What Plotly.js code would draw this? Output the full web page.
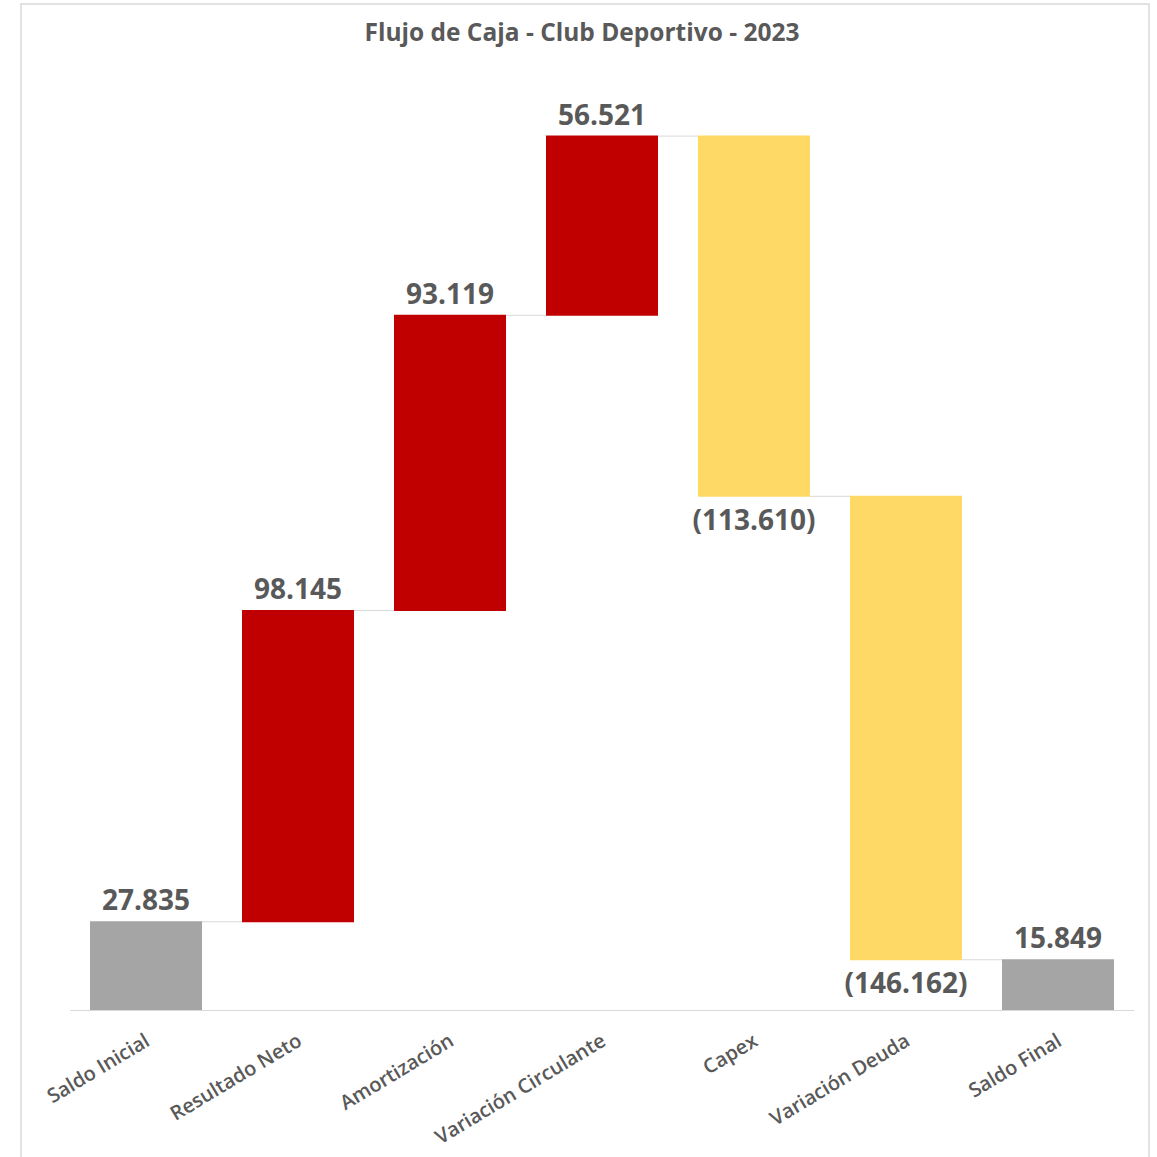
<!DOCTYPE html>
<html>
<head>
<meta charset="utf-8">
<script src="https://cdn.plot.ly/plotly-3.0.1.min.js"></script>
<style>
  html, body { margin: 0; padding: 0; background: #ffffff; }
  #chart { width: 1157px; height: 1157px; }
</style>
</head>
<body>
<div id="chart"></div>
<script>
// Data
const categories = ["Saldo Inicial", "Resultado Neto", "Amortización", "Variación Circulante", "Capex", "Variación Deuda", "Saldo Final"];
const values = [27835, 98145, 93119, 56521, -113610, -146162, 15849];
const measures = ["absolute", "relative", "relative", "relative", "relative", "relative", "absolute"];

function fmt(v) {
  const s = Math.abs(v).toString().replace(/\B(?=(\d{3})+(?!\d))/g, ".");
  return v < 0 ? "(" + s + ")" : s;
}
const labels = values.map(fmt);

const trace = {
  type: "waterfall",
  x: categories,
  y: values,
  measure: measures,
  text: labels,
  textposition: "outside",
  constraintext: "none",
  textfont: { family: "Open Sans, sans-serif", size: 28, color: "#595959", weight: 700 },
  cliponaxis: false,
  hoverinfo: "none",
  increasing: { marker: { color: "#C00000" } },
  decreasing: { marker: { color: "#FFD966" } },
  totals: { marker: { color: "#A5A5A5" } },
  connector: { mode: "between", line: { color: "#D9D9D9", width: 1 } },
  width: 0.737
};

const layout = {
  width: 1157,
  height: 1157,
  paper_bgcolor: "#ffffff",
  plot_bgcolor: "#ffffff",
  showlegend: false,
  margin: { l: 70, r: 23, t: 100, b: 147, pad: 0 },
  title: {
    text: "Flujo de Caja - Club Deportivo - 2023",
    font: { family: "Open Sans, sans-serif", size: 24.5, color: "#595959", weight: 700 },
    x: 0.503,
    xanchor: "center",
    y: 0.972,
    yanchor: "middle"
  },
  xaxis: {
    type: "category",
    showline: true,
    linecolor: "#D9D9D9",
    linewidth: 1,
    showgrid: false,
    zeroline: false,
    ticks: "",
    tickangle: -31,
    ticklabelstandoff: 11,
    tickfont: { family: "Open Sans, sans-serif", size: 20, color: "#595959", weight: 600 },
    automargin: false
  },
  yaxis: {
    range: [0, 287000],
    visible: false,
    showgrid: false,
    zeroline: false,
    fixedrange: true
  },
  shapes: [
    {
      type: "rect",
      xref: "paper", yref: "paper",
      x0: -0.046, x1: 1.0141, y0: -0.17, y1: 1.1055,
      line: { color: "#D9D9D9", width: 1.5 },
      fillcolor: "rgba(0,0,0,0)",
      layer: "below"
    }
  ]
};

Plotly.newPlot("chart", [trace], layout, { displayModeBar: false, staticPlot: true });
</script>
</body>
</html>
